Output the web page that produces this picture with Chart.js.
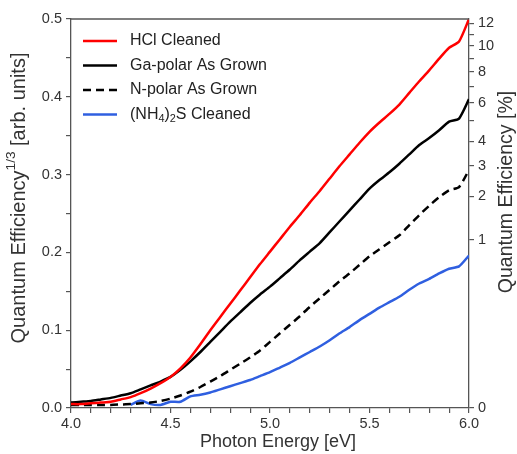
<!DOCTYPE html>
<html>
<head>
<meta charset="utf-8">
<script src="https://cdn.jsdelivr.net/npm/chart.js@4"></script>
<style>
  html, body { margin: 0; padding: 0; background: #fff; }
  #wrap { width: 517px; height: 454px; }
</style>
</head>
<body>
<div id="wrap"><canvas id="qeChart"></canvas></div>
<script>
// photon energy, eV
const energy = [4.00, 4.05, 4.10, 4.15, 4.20, 4.25, 4.30, 4.35, 4.40, 4.45,
  4.50, 4.55, 4.60, 4.65, 4.70, 4.75, 4.80, 4.85, 4.90, 4.95,
  5.00, 5.05, 5.10, 5.15, 5.20, 5.25, 5.30, 5.35, 5.40, 5.45,
  5.50, 5.55, 5.60, 5.65, 5.70, 5.75, 5.80, 5.85, 5.90, 5.95, 6.00];

// QE^(1/3), arb. units
const hclCleaned = [0.005, 0.005, 0.006, 0.007, 0.008, 0.011, 0.014, 0.019, 0.025, 0.032,
  0.040, 0.051, 0.065, 0.082, 0.100, 0.117, 0.134, 0.151, 0.168, 0.185,
  0.201, 0.217, 0.233, 0.248, 0.264, 0.279, 0.295, 0.311, 0.326, 0.341,
  0.355, 0.367, 0.378, 0.390, 0.405, 0.420, 0.434, 0.449, 0.463, 0.471, 0.500];
const gaPolar = [0.007, 0.008, 0.009, 0.011, 0.013, 0.016, 0.019, 0.024, 0.029, 0.034,
  0.040, 0.049, 0.060, 0.072, 0.085, 0.098, 0.111, 0.123, 0.135, 0.146,
  0.156, 0.167, 0.178, 0.190, 0.201, 0.212, 0.226, 0.240, 0.254, 0.268,
  0.282, 0.293, 0.303, 0.314, 0.326, 0.338, 0.347, 0.357, 0.368, 0.372, 0.397];
const nPolar = [0.004, 0.004, 0.004, 0.004, 0.004, 0.0045, 0.005, 0.006, 0.007, 0.009,
  0.012, 0.016, 0.021, 0.027, 0.034, 0.041, 0.049, 0.057, 0.065, 0.074,
  0.085, 0.096, 0.107, 0.118, 0.130, 0.141, 0.152, 0.163, 0.173, 0.184,
  0.195, 0.204, 0.213, 0.222, 0.235, 0.248, 0.260, 0.271, 0.280, 0.284, 0.306];
const nh4sCleaned = [null, null, null, null, null, null, 0.004, 0.0095, 0.005, 0.004,
  0.008, 0.008, 0.015, 0.017, 0.020, 0.024, 0.028, 0.032, 0.036, 0.041,
  0.046, 0.052, 0.058, 0.065, 0.072, 0.079, 0.087, 0.096, 0.104, 0.113,
  0.121, 0.129, 0.136, 0.143, 0.152, 0.160, 0.166, 0.173, 0.179, 0.182, 0.196];

const seriesLabels = ['HCl Cleaned', 'Ga-polar As Grown', 'N-polar As Grown', '(NH4)2S Cleaned'];

// right axis: QE in %, placed at qeScale * QE^(1/3)
const qeTicks = [0, 1, 2, 3, 4, 5, 6, 7, 8, 9, 10, 11, 12];
const qeLabeled = [0, 1, 2, 3, 4, 6, 8, 10, 12];
const qeScale = 0.216;

const FONT = '"Liberation Sans", Arial, sans-serif';
const AXIS = '#555';
const TXT = '#333';

function pts(arr) {
  return energy.map((e, i) => ({ x: e, y: arr[i] }));
}

function drawRich(ctx, parts, x, y, size) {
  // parts: [text, 0 normal / 1 sub / 2 sup]
  let cx = x;
  parts.forEach(([t, k]) => {
    const s = k ? size * 0.68 : size;
    ctx.font = s + 'px ' + FONT;
    const dy = k === 1 ? size * 0.28 : (k === 2 ? -size * 0.38 : 0);
    ctx.fillText(t, cx, y + dy);
    cx += ctx.measureText(t).width;
  });
  return cx - x;
}
function richWidth(ctx, parts, size) {
  let w = 0;
  parts.forEach(([t, k]) => {
    ctx.font = (k ? size * 0.68 : size) + 'px ' + FONT;
    w += ctx.measureText(t).width;
  });
  return w;
}

const extras = {
  id: 'extras',
  afterDraw(chart) {
    const ctx = chart.ctx;
    const a = chart.chartArea;
    ctx.save();
    // top frame line
    ctx.strokeStyle = AXIS;
    ctx.lineWidth = 1.3;
    ctx.beginPath();
    ctx.moveTo(a.left, a.top);
    ctx.lineTo(a.right, a.top);
    ctx.stroke();

    // legend
    const legendParts = [
      [[seriesLabels[0], 0]],
      [[seriesLabels[1], 0]],
      [[seriesLabels[2], 0]],
      [['(NH', 0], ['4', 1], [')', 0], ['2', 1], ['S Cleaned', 0]]
    ];
    ctx.textBaseline = 'middle';
    ctx.textAlign = 'left';
    chart.data.datasets.forEach((ds, i) => {
      const y = 41 + i * 24.5;
      ctx.strokeStyle = ds.borderColor;
      ctx.lineWidth = ds.borderWidth;
      ctx.setLineDash(ds.borderDash || []);
      ctx.beginPath();
      ctx.moveTo(83, y);
      ctx.lineTo(117, y);
      ctx.stroke();
      ctx.setLineDash([]);
      ctx.fillStyle = '#222';
      drawRich(ctx, legendParts[i], 130, y, 16);
    });

    // axis titles
    ctx.fillStyle = TXT;
    ctx.textBaseline = 'middle';
    const leftTitle = [['Quantum Efficiency', 0], ['1/3', 2], [' [arb. units]', 0]];
    let w = richWidth(ctx, leftTitle, 20);
    ctx.save();
    ctx.translate(19, 198);
    ctx.rotate(-Math.PI / 2);
    drawRich(ctx, leftTitle, -w / 2, 0, 20);
    ctx.restore();

    const rightTitle = [['Quantum Efficiency [%]', 0]];
    w = richWidth(ctx, rightTitle, 19.5);
    ctx.save();
    ctx.translate(507, 192);
    ctx.rotate(-Math.PI / 2);
    drawRich(ctx, rightTitle, -w / 2, 0, 19.5);
    ctx.restore();

    ctx.font = '18px ' + FONT;
    ctx.textAlign = 'center';
    ctx.fillText('Photon Energy [eV]', (a.left + a.right) / 2 + 8, 442);
    ctx.restore();
  }
};

const tickFont = { family: FONT, size: 14.5 };
const gridOpts = { drawOnChartArea: false, drawTicks: true, tickLength: 5, color: AXIS, lineWidth: 1.2 };
const borderOpts = { display: true, color: AXIS, width: 1.3 };

new Chart(document.getElementById('qeChart'), {
  type: 'line',
  data: {
    datasets: [
      { label: seriesLabels[0], data: pts(hclCleaned), borderColor: '#ff0000', borderWidth: 2.5 },
      { label: seriesLabels[1], data: pts(gaPolar), borderColor: '#000000', borderWidth: 2.5 },
      { label: seriesLabels[2], data: pts(nPolar), borderColor: '#000000', borderWidth: 2.5, borderDash: [8, 5] },
      { label: seriesLabels[3], data: pts(nh4sCleaned), borderColor: '#2f5fe0', borderWidth: 2.5 }
    ]
  },
  options: {
    responsive: true,
    maintainAspectRatio: false,
    animation: false,
    devicePixelRatio: 1,
    layout: { padding: { top: 19, right: 0, left: 0, bottom: 0 } },
    elements: { point: { radius: 0 }, line: { tension: 0.2 } },
    plugins: { legend: { display: false }, tooltip: { enabled: false } },
    scales: {
      x: {
        type: 'linear', min: 4, max: 6,
        ticks: {
          stepSize: 0.1, autoSkip: false, maxRotation: 0, padding: 2,
          font: tickFont, color: TXT,
          callback: v => Math.abs(v * 2 - Math.round(v * 2)) < 1e-6 ? v.toFixed(1) : ''
        },
        grid: gridOpts, border: borderOpts,
        afterFit: s => { s.height = 46; }
      },
      y: {
        position: 'left', min: 0, max: 0.5,
        ticks: {
          stepSize: 0.05, autoSkip: false, padding: 4,
          font: tickFont, color: TXT,
          callback: v => Math.abs(v * 10 - Math.round(v * 10)) < 1e-6 ? v.toFixed(1) : ''
        },
        grid: gridOpts, border: borderOpts,
        afterFit: s => { s.width = 71; }
      },
      y2: {
        position: 'right', min: 0, max: 0.5,
        afterBuildTicks: s => { s.ticks = qeTicks.map(q => ({ value: qeScale * Math.cbrt(q) })); },
        ticks: {
          autoSkip: false, padding: 4,
          font: tickFont, color: TXT,
          callback: (v, i) => qeLabeled.includes(qeTicks[i]) ? String(qeTicks[i]) : ''
        },
        grid: gridOpts, border: borderOpts,
        afterFit: s => { s.width = 48; }
      }
    }
  },
  plugins: [extras]
});
</script>
</body>
</html>
